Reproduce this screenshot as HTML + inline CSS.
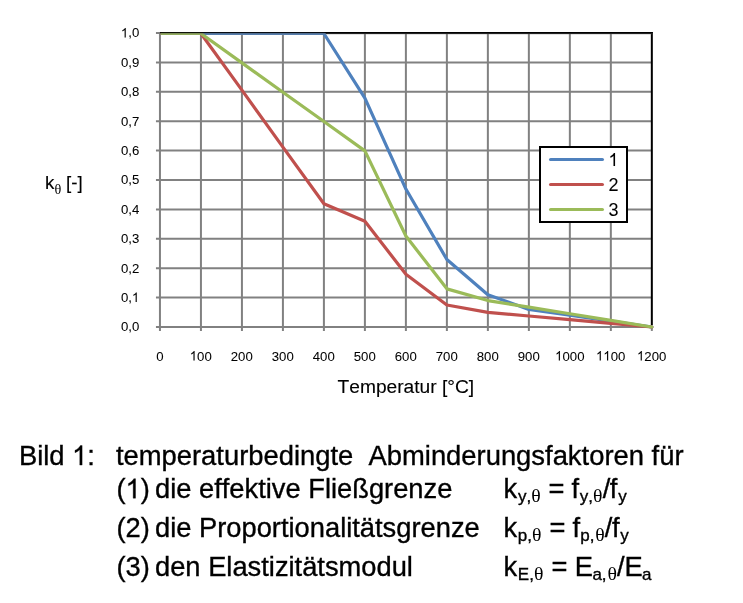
<!DOCTYPE html>
<html><head><meta charset="utf-8"><style>
html,body{margin:0;padding:0;background:#fff;width:743px;height:603px;overflow:hidden}
svg{position:absolute;left:0;top:0;display:block;will-change:transform}
text{font-family:"Liberation Sans",sans-serif;fill:#000;font-variant-ligatures:none;font-kerning:none;font-feature-settings:"liga" 0,"kern" 0;stroke:#000;stroke-width:0.35px;paint-order:stroke}
</style></head><body>
<svg width="743" height="603" viewBox="0 0 743 603">
<line x1="159.95" y1="33.07" x2="159.95" y2="330.94" stroke="#818181" stroke-width="2"/>
<line x1="200.94" y1="33.07" x2="200.94" y2="330.94" stroke="#818181" stroke-width="2"/>
<line x1="241.93" y1="33.07" x2="241.93" y2="330.94" stroke="#818181" stroke-width="2"/>
<line x1="282.92" y1="33.07" x2="282.92" y2="330.94" stroke="#818181" stroke-width="2"/>
<line x1="323.91" y1="33.07" x2="323.91" y2="330.94" stroke="#818181" stroke-width="2"/>
<line x1="364.9" y1="33.07" x2="364.9" y2="330.94" stroke="#818181" stroke-width="2"/>
<line x1="405.89" y1="33.07" x2="405.89" y2="330.94" stroke="#818181" stroke-width="2"/>
<line x1="446.88" y1="33.07" x2="446.88" y2="330.94" stroke="#818181" stroke-width="2"/>
<line x1="487.87" y1="33.07" x2="487.87" y2="330.94" stroke="#818181" stroke-width="2"/>
<line x1="528.86" y1="33.07" x2="528.86" y2="330.94" stroke="#818181" stroke-width="2"/>
<line x1="569.85" y1="33.07" x2="569.85" y2="330.94" stroke="#818181" stroke-width="2"/>
<line x1="610.84" y1="33.07" x2="610.84" y2="330.94" stroke="#818181" stroke-width="2"/>
<line x1="651.83" y1="326.94" x2="651.83" y2="330.94" stroke="#818181" stroke-width="2"/>
<line x1="155.95" y1="326.94" x2="651.83" y2="326.94" stroke="#818181" stroke-width="2"/>
<line x1="155.95" y1="297.55" x2="651.83" y2="297.55" stroke="#818181" stroke-width="2"/>
<line x1="155.95" y1="268.17" x2="651.83" y2="268.17" stroke="#818181" stroke-width="2"/>
<line x1="155.95" y1="238.78" x2="651.83" y2="238.78" stroke="#818181" stroke-width="2"/>
<line x1="155.95" y1="209.39" x2="651.83" y2="209.39" stroke="#818181" stroke-width="2"/>
<line x1="155.95" y1="180.0" x2="651.83" y2="180.0" stroke="#818181" stroke-width="2"/>
<line x1="155.95" y1="150.62" x2="651.83" y2="150.62" stroke="#818181" stroke-width="2"/>
<line x1="155.95" y1="121.23" x2="651.83" y2="121.23" stroke="#818181" stroke-width="2"/>
<line x1="155.95" y1="91.84" x2="651.83" y2="91.84" stroke="#818181" stroke-width="2"/>
<line x1="155.95" y1="62.46" x2="651.83" y2="62.46" stroke="#818181" stroke-width="2"/>
<line x1="155.95" y1="33.07" x2="651.83" y2="33.07" stroke="#818181" stroke-width="2"/>
<polyline points="159.95,33.07 651.83,33.07 651.83,325.14" fill="none" stroke="#000" stroke-width="2"/>
<clipPath id="cp"><rect x="160.5" y="0" width="600" height="400"/></clipPath><g clip-path="url(#cp)">
<polyline points="159.95,33.50 200.94,33.50 241.93,33.50 282.92,33.50 323.91,33.50 364.90,98.07 405.89,189.06 446.88,259.50 487.87,294.71 528.86,309.39 569.85,315.26 610.84,321.13 651.83,327.00" fill="none" stroke="#4F81BD" stroke-width="3.2" stroke-linejoin="round" stroke-linecap="round"/>
<polyline points="159.95,33.50 200.94,33.50 241.93,90.15 282.92,147.08 323.91,203.73 364.90,221.34 405.89,274.17 446.88,304.99 487.87,312.32 528.86,315.99 569.85,319.66 610.84,323.33 651.83,327.00" fill="none" stroke="#C0504D" stroke-width="3.2" stroke-linejoin="round" stroke-linecap="round"/>
<polyline points="159.95,33.50 200.94,33.50 241.93,62.85 282.92,92.20 323.91,121.55 364.90,150.90 405.89,236.01 446.88,288.85 487.87,300.58 528.86,307.19 569.85,313.79 610.84,320.40 651.83,327.00" fill="none" stroke="#9BBB59" stroke-width="3.2" stroke-linejoin="round" stroke-linecap="round"/>
</g>
<rect x="160" y="33" width="491.83000000000004" height="1.6" fill="#707070" opacity="0.35"/>
<rect x="160" y="32" width="492.83000000000004" height="1.1" fill="#000" opacity="0.9"/>
<rect x="540" y="147" width="87" height="75" fill="#fff" stroke="#000" stroke-width="2"/>
<line x1="550.6" y1="159.5" x2="602.4" y2="159.5" stroke="#4F81BD" stroke-width="3.2" stroke-linecap="round"/>
<line x1="550.6" y1="184.5" x2="602.4" y2="184.5" stroke="#C0504D" stroke-width="3.2" stroke-linecap="round"/>
<line x1="550.6" y1="209.5" x2="602.4" y2="209.5" stroke="#9BBB59" stroke-width="3.2" stroke-linecap="round"/>
<path d="M745,0L570,0L570,1147Q505,1085 399,1023Q293,961 212,930L212,1104Q354,1172 462,1269Q571,1366 616,1466L745,1466Z" transform="matrix(0.00645,0,0,-0.00645,120.95,37.40)" fill="#000" stroke="#000" stroke-width="7.8"/>
<text x="139.30" y="37.40" font-size="13.2" text-anchor="end" style="stroke-width:0.05px"> ,0</text>
<text x="139.30" y="66.80" font-size="13.2" text-anchor="end" style="stroke-width:0.05px">0,9</text>
<text x="139.30" y="96.10" font-size="13.2" text-anchor="end" style="stroke-width:0.05px">0,8</text>
<text x="139.30" y="125.50" font-size="13.2" text-anchor="end" style="stroke-width:0.05px">0,7</text>
<text x="139.30" y="154.90" font-size="13.2" text-anchor="end" style="stroke-width:0.05px">0,6</text>
<text x="139.30" y="184.30" font-size="13.2" text-anchor="end" style="stroke-width:0.05px">0,5</text>
<text x="139.30" y="213.70" font-size="13.2" text-anchor="end" style="stroke-width:0.05px">0,4</text>
<text x="139.30" y="243.10" font-size="13.2" text-anchor="end" style="stroke-width:0.05px">0,3</text>
<text x="139.30" y="272.50" font-size="13.2" text-anchor="end" style="stroke-width:0.05px">0,2</text>
<path d="M745,0L570,0L570,1147Q505,1085 399,1023Q293,961 212,930L212,1104Q354,1172 462,1269Q571,1366 616,1466L745,1466Z" transform="matrix(0.00645,0,0,-0.00645,131.96,301.90)" fill="#000" stroke="#000" stroke-width="7.8"/>
<text x="139.30" y="301.90" font-size="13.2" text-anchor="end" style="stroke-width:0.05px">0, </text>
<text x="139.30" y="331.20" font-size="13.2" text-anchor="end" style="stroke-width:0.05px">0,0</text>
<text x="159.80" y="360.50" font-size="13.2" text-anchor="middle" style="stroke-width:0.05px">0</text>
<path d="M745,0L570,0L570,1147Q505,1085 399,1023Q293,961 212,930L212,1104Q354,1172 462,1269Q571,1366 616,1466L745,1466Z" transform="matrix(0.00645,0,0,-0.00645,189.79,360.50)" fill="#000" stroke="#000" stroke-width="7.8"/>
<text x="200.80" y="360.50" font-size="13.2" text-anchor="middle" style="stroke-width:0.05px"> 00</text>
<text x="241.80" y="360.50" font-size="13.2" text-anchor="middle" style="stroke-width:0.05px">200</text>
<text x="282.80" y="360.50" font-size="13.2" text-anchor="middle" style="stroke-width:0.05px">300</text>
<text x="323.80" y="360.50" font-size="13.2" text-anchor="middle" style="stroke-width:0.05px">400</text>
<text x="364.80" y="360.50" font-size="13.2" text-anchor="middle" style="stroke-width:0.05px">500</text>
<text x="405.80" y="360.50" font-size="13.2" text-anchor="middle" style="stroke-width:0.05px">600</text>
<text x="446.80" y="360.50" font-size="13.2" text-anchor="middle" style="stroke-width:0.05px">700</text>
<text x="487.80" y="360.50" font-size="13.2" text-anchor="middle" style="stroke-width:0.05px">800</text>
<text x="528.80" y="360.50" font-size="13.2" text-anchor="middle" style="stroke-width:0.05px">900</text>
<path d="M745,0L570,0L570,1147Q505,1085 399,1023Q293,961 212,930L212,1104Q354,1172 462,1269Q571,1366 616,1466L745,1466Z" transform="matrix(0.00645,0,0,-0.00645,555.12,360.50)" fill="#000" stroke="#000" stroke-width="7.8"/>
<text x="569.80" y="360.50" font-size="13.2" text-anchor="middle" style="stroke-width:0.05px"> 000</text>
<path d="M745,0L570,0L570,1147Q505,1085 399,1023Q293,961 212,930L212,1104Q354,1172 462,1269Q571,1366 616,1466L745,1466Z" transform="matrix(0.00645,0,0,-0.00645,596.02,360.50)" fill="#000" stroke="#000" stroke-width="7.8"/>
<path d="M745,0L570,0L570,1147Q505,1085 399,1023Q293,961 212,930L212,1104Q354,1172 462,1269Q571,1366 616,1466L745,1466Z" transform="matrix(0.00645,0,0,-0.00645,603.36,360.50)" fill="#000" stroke="#000" stroke-width="7.8"/>
<text x="610.70" y="360.50" font-size="13.2" text-anchor="middle" style="stroke-width:0.05px">  00</text>
<path d="M745,0L570,0L570,1147Q505,1085 399,1023Q293,961 212,930L212,1104Q354,1172 462,1269Q571,1366 616,1466L745,1466Z" transform="matrix(0.00645,0,0,-0.00645,637.02,360.50)" fill="#000" stroke="#000" stroke-width="7.8"/>
<text x="651.70" y="360.50" font-size="13.2" text-anchor="middle" style="stroke-width:0.05px"> 200</text>
<text x="45.00" y="188.60" font-size="18.8" text-anchor="start" style="stroke-width:0.12px">k</text>
<text transform="translate(54.6,194.4) scale(1.03,1)" font-size="13.8" style="font-family:'Liberation Serif',serif;stroke:none">θ</text>
<text x="66.00" y="188.60" font-size="18.8" text-anchor="start" style="stroke-width:0.12px">[-]</text>
<text x="337.50" y="393.20" font-size="19.2" text-anchor="start" style="stroke-width:0.12px">Temperatur [°C]</text>
<path d="M745,0L570,0L570,1147Q505,1085 399,1023Q293,961 212,930L212,1104Q354,1172 462,1269Q571,1366 616,1466L745,1466Z" transform="matrix(0.00879,0,0,-0.00879,608.50,166.00)" fill="#000" stroke="#000" stroke-width="5.7"/>
<text x="608.50" y="166.00" font-size="18" text-anchor="start" style="stroke-width:0.05px"> </text>
<text x="608.50" y="191.00" font-size="18" text-anchor="start" style="stroke-width:0.05px">2</text>
<text x="608.50" y="216.00" font-size="18" text-anchor="start" style="stroke-width:0.05px">3</text>
<path d="M745,0L570,0L570,1147Q505,1085 399,1023Q293,961 212,930L212,1104Q354,1172 462,1269Q571,1366 616,1466L745,1466Z" transform="matrix(0.01337,0,0,-0.01337,72.16,465.10)" fill="#000" stroke="#000" stroke-width="26.2"/>
<text x="18.90" y="465.10" font-size="27.38" text-anchor="start" >Bild  :</text>
<text x="115.90" y="465.10" font-size="27.38" text-anchor="start" xml:space="preserve">temperaturbedingte  Abminderungsfaktoren für</text>
<path d="M745,0L570,0L570,1147Q505,1085 399,1023Q293,961 212,930L212,1104Q354,1172 462,1269Q571,1366 616,1466L745,1466Z" transform="matrix(0.01333,0,0,-0.01333,125.59,498.20)" fill="#000" stroke="#000" stroke-width="26.3"/>
<text x="116.50" y="498.20" font-size="27.3" text-anchor="start" >( )</text>
<text x="155.00" y="498.20" font-size="27.3" text-anchor="start" >die effektive Fließgrenze</text>
<text x="503.40" y="498.20" font-size="27.3" text-anchor="start" >k</text>
<text x="518.00" y="502.20" font-size="17" text-anchor="start" >y,</text>
<text transform="translate(531.25,502.20) scale(1.1,1)" font-size="18" style="font-family:'Liberation Serif',serif;stroke:none">θ</text>
<text x="548.40" y="498.20" font-size="27.3" text-anchor="start" >=</text>
<text x="571.50" y="498.20" font-size="27.3" text-anchor="start" >f</text>
<text x="579.65" y="502.20" font-size="17" text-anchor="start" >y,</text>
<text transform="translate(593.05,502.20) scale(1.1,1)" font-size="18" style="font-family:'Liberation Serif',serif;stroke:none">θ</text>
<text x="602.80" y="498.20" font-size="27.3" text-anchor="start" >/</text>
<text x="609.80" y="498.20" font-size="27.3" text-anchor="start" >f</text>
<text x="618.30" y="502.20" font-size="17" text-anchor="start" >y</text>
<text x="116.50" y="537.35" font-size="27.3" text-anchor="start" >(2)</text>
<text x="155.00" y="537.35" font-size="27.3" text-anchor="start" >die Proportionalitätsgrenze</text>
<text x="503.56" y="537.35" font-size="27.3" text-anchor="start" >k</text>
<text x="517.70" y="541.35" font-size="17" text-anchor="start" >p,</text>
<text transform="translate(532.05,541.35) scale(1.1,1)" font-size="18" style="font-family:'Liberation Serif',serif;stroke:none">θ</text>
<text x="549.40" y="537.35" font-size="27.3" text-anchor="start" >=</text>
<text x="572.50" y="537.35" font-size="27.3" text-anchor="start" >f</text>
<text x="580.20" y="541.35" font-size="17" text-anchor="start" >p,</text>
<text transform="translate(595.15,541.35) scale(1.1,1)" font-size="18" style="font-family:'Liberation Serif',serif;stroke:none">θ</text>
<text x="604.70" y="537.35" font-size="27.3" text-anchor="start" >/</text>
<text x="612.10" y="537.35" font-size="27.3" text-anchor="start" >f</text>
<text x="620.26" y="541.35" font-size="17" text-anchor="start" >y</text>
<text x="116.50" y="576.25" font-size="27.3" text-anchor="start" >(3)</text>
<text x="155.00" y="576.25" font-size="27.3" text-anchor="start" >den Elastizitätsmodul</text>
<text x="503.56" y="576.25" font-size="27.3" text-anchor="start" >k</text>
<text x="517.80" y="580.25" font-size="17" text-anchor="start" >E,</text>
<text transform="translate(534.05,580.25) scale(1.1,1)" font-size="18" style="font-family:'Liberation Serif',serif;stroke:none">θ</text>
<text x="551.40" y="576.25" font-size="27.3" text-anchor="start" >=</text>
<text x="574.65" y="576.25" font-size="27.3" text-anchor="start" >E</text>
<text x="592.40" y="580.25" font-size="17" text-anchor="start" >a,</text>
<text transform="translate(607.55,580.25) scale(1.1,1)" font-size="18" style="font-family:'Liberation Serif',serif;stroke:none">θ</text>
<text x="617.00" y="576.25" font-size="27.3" text-anchor="start" >/</text>
<text x="624.45" y="576.25" font-size="27.3" text-anchor="start" >E</text>
<text x="642.10" y="580.25" font-size="17" text-anchor="start" >a</text>
</svg>
</body></html>
